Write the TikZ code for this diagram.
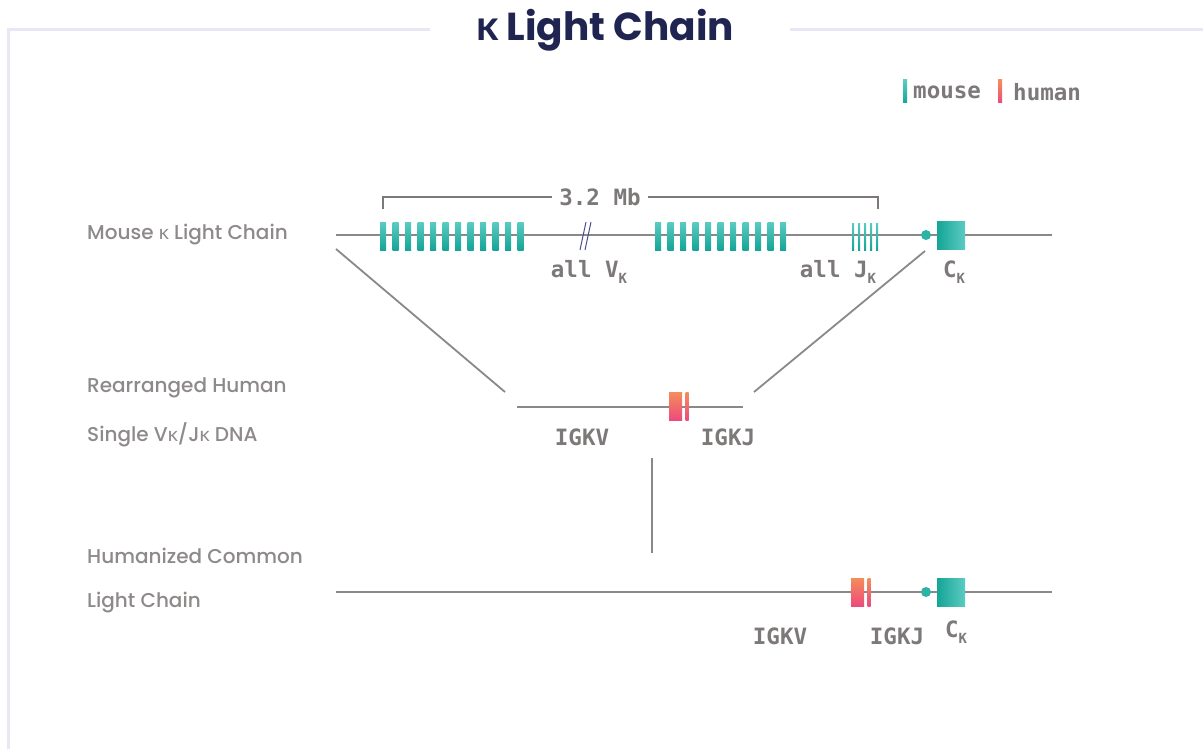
\documentclass[tikz,border=0pt]{standalone}
\usepackage{fontspec}
\setmainfont{Poppins}
\newfontfamily\labf{Poppins Medium}
\newfontfamily\grk{Lato}
\newfontfamily\monof{DejaVu Sans Mono}
\definecolor{framec}{HTML}{E9E7F3}
\definecolor{navy}{HTML}{1F2550}
\definecolor{linec}{HTML}{8C8888}
\definecolor{labc}{HTML}{8E8A8A}
\definecolor{monoc}{HTML}{7D7979}
\definecolor{tealA}{HTML}{5CCBC2}
\definecolor{tealB}{HTML}{14A596}
\definecolor{tealC}{HTML}{2DB3A6}
\definecolor{redA}{HTML}{F58D5B}
\definecolor{redB}{HTML}{EC4A7C}
\definecolor{breakc}{HTML}{4B4B8E}
\tikzset{
  framel/.style={draw=framec, line width=3pt},
  chrom/.style={draw=linec, line width=2.2pt},
  bracketl/.style={draw=monoc, line width=2pt},
  lab/.style={font=\labf\fontsize{20}{23}\selectfont, text=labc, anchor=west, inner sep=0pt},
  mono/.style={font=\monof\bfseries\fontsize{22.5}{24}\selectfont, text=monoc, inner sep=1pt},
  tealbar/.style={top color=tealA, bottom color=tealB, draw=none},
  redbar/.style={top color=redA, bottom color=redB, draw=none},
}
\newcommand{\kap}{\raisebox{-6pt}{\fontsize{14}{15}\selectfont K}}
\begin{document}
\begin{tikzpicture}[x=1pt,y=-1pt]
\useasboundingbox (0,0) rectangle (1203,749);
\fill[white] (0,0) rectangle (1203,749);
% frame
\coordinate (f1) at (430,30); \coordinate (f2) at (8,30); \coordinate (f3) at (8,749);
\coordinate (f4) at (790,30); \coordinate (f5) at (1203,30);
\draw[framel] (f1) -- (f2) -- (f3);
\draw[framel] (f4) -- (f5);
% title
\node[font=\bfseries\fontsize{39}{42}\selectfont, text=navy] (title) at (605,30) {{\grk\bfseries\fontsize{42}{44}\selectfont κ} Light Chain};
% legend
\shade[tealbar] (903,80) rectangle (907,103);
\node[mono, anchor=west] (lmouse) at (912,92) {mouse};
\shade[redbar] (998,80) rectangle (1002,103);
\node[mono, anchor=west] (lhuman) at (1012,92) {human};
% left labels
\node[lab] (l1) at (87,235) {Mouse {\grk κ} Light Chain};
\node[lab] (l2) at (87,388) {Rearranged Human};
\node[lab] (l3) at (87,435) {Single V{\grk κ}/J{\grk κ} DNA};
\node[lab] (l4) at (87,556) {Humanized Common};
\node[lab] (l5) at (87,603) {Light Chain};
% mouse row
\coordinate (m0) at (336,235); \coordinate (m1) at (1052,235);
\draw[chrom] (m0) -- (m1);
\foreach \i in {0,...,11} \shade[tealbar] ({380+\i*12.5},222) rectangle ++(6,28);
\foreach \i in {0,...,10} \shade[tealbar] ({655+\i*12.5},222) rectangle ++(6,28);
\foreach \i in {0,...,4} \shade[tealbar] ({852+\i*6},223) rectangle ++(2,27);
\draw[breakc, line width=1pt] (580,250) -- (586,222) (585,250) -- (591,222);
\fill[tealC] (926,235) circle (5);
\shade[left color=tealB, right color=tealA] (937,221) rectangle (965,249);
% bracket
\node[mono] (mb) at (600,197) {3.2 Mb};
\coordinate (bl) at (383,209); \coordinate (br) at (878,209);
\draw[bracketl] ([xshift=-6pt]mb.west) -| (bl);
\draw[bracketl] ([xshift=6pt]mb.east) -| (br);
\node[mono] (av) at (589,272) {all V\kap};
\node[mono] (aj) at (838,272) {all J\kap};
\node[mono] (ck1) at (954,272) {C\kap};
% connectors
\coordinate (s1a) at (336,249); \coordinate (s1b) at (505,392);
\coordinate (s2a) at (925,251); \coordinate (s2b) at (754,392);
\draw[chrom, line width=1.8pt] (s1a) -- (s1b);
\draw[chrom, line width=1.8pt] (s2a) -- (s2b);
% rearranged row
\coordinate (r0) at (517,407); \coordinate (r1) at (743,407);
\draw[chrom] (r0) -- (r1);
\shade[redbar] (669,392) rectangle (682,420);
\shade[redbar] (685.5,392) rectangle (688.5,420);
\node[mono] (igkv1) at (582,437) {IGKV};
\node[mono] (igkj1) at (728,437) {IGKJ};
% vertical
\coordinate (v0) at (652,458); \coordinate (v1) at (652,553);
\draw[chrom, line width=1.8pt] (v0) -- (v1);
% humanized row
\coordinate (h0) at (336,592); \coordinate (h1) at (1052,592);
\draw[chrom] (h0) -- (h1);
\shade[redbar] (851,578) rectangle (864,606);
\shade[redbar] (867.5,578) rectangle (870.5,606);
\fill[tealC] (926,592) circle (5);
\shade[left color=tealB, right color=tealA] (937,578) rectangle (965,606);
\node[mono] (igkv2) at (780,636) {IGKV};
\node[mono] (igkj2) at (897,636) {IGKJ};
\node[mono] (ck2) at (956,632) {C\kap};
\end{tikzpicture}
\end{document}
